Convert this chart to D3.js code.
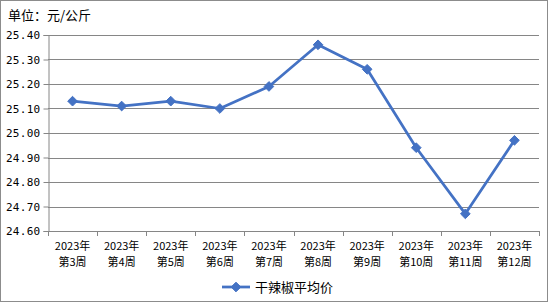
<!DOCTYPE html>
<html>
<head>
<meta charset="utf-8">
<script src="https://cdn.jsdelivr.net/npm/d3@7"></script>
<style>
  html, body { margin: 0; padding: 0; background: #fff; }
  svg text { font-family: "Noto Sans CJK SC", "DejaVu Sans", sans-serif; fill: #000; }
</style>
</head>
<body>
<div id="chart"></div>
<script>
const weeks = ["第3周", "第4周", "第5周", "第6周", "第7周", "第8周", "第9周", "第10周", "第11周", "第12周"];
const years = weeks.map(() => "2023年");
const prices = [25.13, 25.11, 25.13, 25.10, 25.19, 25.36, 25.26, 24.94, 24.67, 24.97];
const yTicks = [24.60, 24.70, 24.80, 24.90, 25.00, 25.10, 25.20, 25.30, 25.40];
const seriesName = "干辣椒平均价";
const unitLabel = "单位：元/公斤";

const width = 548, height = 302;
const margin = { top: 35, right: 9, bottom: 71, left: 48 };
const blue = "#4472C4", grid = "#868686";

const svg = d3.select("#chart").append("svg")
    .attr("width", width).attr("height", height);

svg.append("rect")
    .attr("x", 0.5).attr("y", 0.5)
    .attr("width", width - 1).attr("height", height - 1)
    .attr("fill", "#fff").attr("stroke", "#8c8c8c");

const x = d3.scaleBand().domain(weeks)
    .range([margin.left, width - margin.right]);
const y = d3.scaleLinear().domain([24.60, 25.40])
    .range([height - margin.bottom, margin.top]);

// gridlines
svg.append("g").selectAll("line").data(yTicks.slice(1)).enter().append("line")
    .attr("x1", margin.left).attr("x2", width - margin.right)
    .attr("y1", d => Math.round(y(d)) + 0.5).attr("y2", d => Math.round(y(d)) + 0.5)
    .attr("stroke", grid).attr("stroke-width", 1);

// y axis
const yAxis = svg.append("g")
    .attr("transform", `translate(${margin.left + 0.5},0)`)
    .call(d3.axisLeft(y).tickValues(yTicks).tickFormat(d3.format(".2f")).tickSize(5).tickPadding(3));
yAxis.select(".domain").attr("stroke", grid);
yAxis.selectAll(".tick line").attr("stroke", grid);
yAxis.selectAll(".tick text").attr("font-size", 11).attr("letter-spacing", 0.3)
    .style("font-family", "'DejaVu Sans Mono', monospace");

// x axis
const xAxis = svg.append("g")
    .attr("transform", `translate(0,${Math.round(height - margin.bottom) + 0.5})`)
    .call(d3.axisBottom(x).tickSize(0).tickFormat(""));
xAxis.select(".domain").attr("stroke", grid).attr("d", `M${margin.left},0H${width - margin.right}`);
svg.append("g").selectAll("line").data(d3.range(weeks.length + 1)).enter().append("line")
    .attr("x1", i => Math.round(margin.left + i * x.step()) + 0.5)
    .attr("x2", i => Math.round(margin.left + i * x.step()) + 0.5)
    .attr("y1", height - margin.bottom).attr("y2", height - margin.bottom + 5)
    .attr("stroke", grid);

const xl = svg.append("g").selectAll("text").data(weeks).enter().append("text")
    .attr("x", d => x(d) + x.bandwidth() / 2)
    .attr("text-anchor", "middle").attr("font-size", 11);
xl.append("tspan").attr("x", d => x(d) + x.bandwidth() / 2).attr("y", 250)
    .text((d, i) => years[i]);
xl.append("tspan").attr("x", d => x(d) + x.bandwidth() / 2).attr("y", 266)
    .text(d => d);

// title
svg.append("text").attr("x", 8).attr("y", 20).attr("font-size", 13).text(unitLabel);

// line
const line = d3.line().x((d, i) => x(weeks[i]) + x.bandwidth() / 2).y(d => y(d));
svg.append("path").datum(prices)
    .attr("d", line).attr("fill", "none")
    .attr("stroke", blue).attr("stroke-width", 2.75).attr("stroke-linejoin", "round");

const diamond = d3.symbol().type(d3.symbolDiamond2).size(60);
svg.append("g").selectAll("path").data(prices).enter().append("path")
    .attr("d", diamond)
    .attr("transform", (d, i) => `translate(${x(weeks[i]) + x.bandwidth() / 2},${y(d)})`)
    .attr("fill", blue).attr("stroke", blue).attr("stroke-width", 1);

// legend
const lg = svg.append("g").attr("transform", "translate(222,287)");
lg.append("line").attr("x1", 0).attr("x2", 28).attr("stroke", blue).attr("stroke-width", 2.75);
lg.append("path").attr("d", diamond).attr("transform", "translate(14,0)")
    .attr("fill", blue).attr("stroke", blue);
lg.append("text").attr("x", 33).attr("y", 5).attr("font-size", 13).text(seriesName);
</script>
</body>
</html>
